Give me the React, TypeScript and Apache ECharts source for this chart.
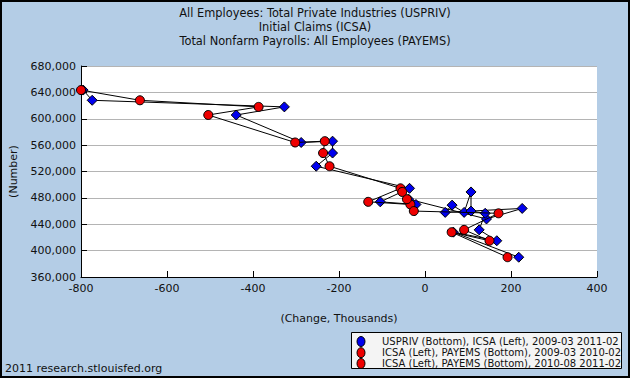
import React, { useEffect, useRef } from "react";
import * as echarts from "echarts";

// Monthly initial claims (ICSA, monthly average), 2009-03 .. 2011-02
const months = [
  "2009-03", "2009-04", "2009-05", "2009-06", "2009-07", "2009-08", "2009-09", "2009-10",
  "2009-11", "2009-12", "2010-01", "2010-02", "2010-03", "2010-04", "2010-05", "2010-06",
  "2010-07", "2010-08", "2010-09", "2010-10", "2010-11", "2010-12", "2011-01", "2011-02",
];
const icsa = [
  643500, 628000, 618000, 605700, 564000, 566000, 548000, 528000,
  494500, 474000, 470000, 478000, 448000, 464000, 458000, 469000,
  458000, 489000, 460000, 456600, 431500, 415000, 428000, 390000,
];
// Change in private employment (USPRIV), thousands
const usprivChange = [
  -795, -774, -327, -439, -288, -215, -215, -253,
  -36, -104, -21, -38, 143, 226, 47, 63,
  91, 107, 107, 140, 126, 167, 66, 218,
];
// Change in nonfarm payrolls (PAYEMS), thousands, 2009-03 .. 2010-02
const payems1 = [-800, -663, -387, -504, -302, -233, -237, -222, -57, -132, -34, -42];
// Change in nonfarm payrolls (PAYEMS), thousands, 2010-08 .. 2011-02
const payems2 = [-53, -26, 171, 91, 150, 62, 192];

const titleLines = [
  "All Employees: Total Private Industries (USPRIV)",
  "Initial Claims (ICSA)",
  "Total Nonfarm Payrolls: All Employees (PAYEMS)",
];
const legendNames = [
  "USPRIV (Bottom), ICSA (Left), 2009-03 2011-02",
  "ICSA (Left), PAYEMS (Bottom), 2009-03 2010-02",
  "ICSA (Left), PAYEMS (Bottom), 2010-08 2011-02",
];
const legendColors = ["#0000EE", "#EE0000", "#EE0000"];
const xTicks = { min: -800, max: 400, interval: 200 };
const yTicks = { min: 360000, max: 680000, interval: 40000 };

const FONT = "DejaVu Sans";

export default function App() {
  const ref = useRef<HTMLDivElement>(null);
  useEffect(() => {
    if (!ref.current) return;
    const chart = echarts.init(ref.current, undefined, { renderer: "svg" });
    const blueData = months.map((m, i) => [usprivChange[i], icsa[i]]);
    const i2 = months.indexOf("2010-08");
    const red1 = payems1.map((v, i) => [v, icsa[i]]);
    const red2 = payems2.map((v, i) => [v, icsa[i2 + i]]);
    const lineStyle = { color: "#000", width: 1 };

    const legendRowY = [341.5, 352.7, 363.5];
    const legendGraphics: any[] = [
      {
        type: "rect",
        shape: { x: 351.5, y: 332.5, width: 270, height: 36 },
        style: { fill: "#f4f4f4", stroke: "#000", lineWidth: 1 },
        z: 50,
      },
    ];
    legendNames.forEach((n, i) => {
      legendGraphics.push({
        type: "ellipse",
        shape: { cx: 361, cy: legendRowY[i], rx: 4, ry: 5 },
        style: { fill: legendColors[i], stroke: "#000", lineWidth: 1 },
        z: 51,
      });
      legendGraphics.push({
        type: "text",
        x: 382,
        y: legendRowY[i],
        style: {
          text: n,
          font: `10px '${FONT}'`,
          fill: "#111",
          textVerticalAlign: "middle",
          verticalAlign: "middle",
        },
        z: 51,
      });
    });

    chart.setOption({
      animation: false,
      backgroundColor: "#B4CDE6",
      title: {
        text: titleLines.join("\n"),
        left: "center",
        top: 6,
        padding: 0,
        textStyle: { fontFamily: FONT, fontSize: 11.4, fontWeight: "normal", color: "#111", lineHeight: 14 },
      },
      grid: {
        left: 80,
        right: 33,
        top: 66,
        bottom: 101,
        show: true,
        backgroundColor: "#fff",
        borderWidth: 0,
      },
      xAxis: {
        type: "value",
        min: xTicks.min,
        max: xTicks.max,
        interval: xTicks.interval,
        name: "(Change, Thousands)",
        nameLocation: "middle",
        nameGap: 36,
        nameTextStyle: { fontFamily: FONT, fontSize: 11, color: "#111" },
        axisLine: { show: true, onZero: false, lineStyle: { color: "#000", width: 1 } },
        axisTick: { show: true, inside: true, length: 6, lineStyle: { color: "#000" } },
        axisLabel: { fontFamily: FONT, fontSize: 11, color: "#111", margin: 6 },
        splitLine: { show: false },
      },
      yAxis: {
        type: "value",
        min: yTicks.min,
        max: yTicks.max,
        interval: yTicks.interval,
        name: "(Number)",
        nameLocation: "middle",
        nameGap: 62,
        nameTextStyle: { fontFamily: FONT, fontSize: 11, color: "#111" },
        axisLine: { show: true, onZero: false, lineStyle: { color: "#000", width: 1 } },
        axisTick: { show: true, inside: true, length: 6, lineStyle: { color: "#000" } },
        axisLabel: {
          fontFamily: FONT,
          fontSize: 11,
          color: "#111",
          margin: 5,
          formatter: (v: number) => v.toLocaleString("en-US"),
        },
        splitLine: { show: true, lineStyle: { color: "#b4b4b4", width: 1 } },
      },
      graphic: [
        {
          type: "text",
          left: 5,
          top: 363,
          style: { text: "2011 research.stlouisfed.org", font: `11px '${FONT}'`, fill: "#111" },
        },
        ...legendGraphics,
        {
          type: "rect",
          shape: { x: 1, y: 1, width: 628, height: 376 },
          style: { fill: "none", stroke: "#000", lineWidth: 2 },
          silent: true,
          z: 100,
        },
      ],
      series: [
        {
          name: legendNames[0],
          type: "line",
          data: blueData,
          symbol: "diamond",
          symbolSize: 10,
          lineStyle,
          itemStyle: { color: "#0000EE", borderColor: "#000", borderWidth: 1 },
          z: 2,
        },
        {
          name: legendNames[1],
          type: "line",
          data: red1,
          symbol: "circle",
          symbolSize: 9,
          lineStyle,
          itemStyle: { color: "#EE0000", borderColor: "#000", borderWidth: 1 },
          z: 3,
        },
        {
          name: legendNames[2],
          type: "line",
          data: red2,
          symbol: "circle",
          symbolSize: 9,
          lineStyle,
          itemStyle: { color: "#EE0000", borderColor: "#000", borderWidth: 1 },
          z: 3,
        },
      ],
    });
    return () => chart.dispose();
  }, []);
  return (
    <div
      ref={ref}
      style={{ position: "absolute", left: 0, top: 0, width: 630, height: 378 }}
    />
  );
}
